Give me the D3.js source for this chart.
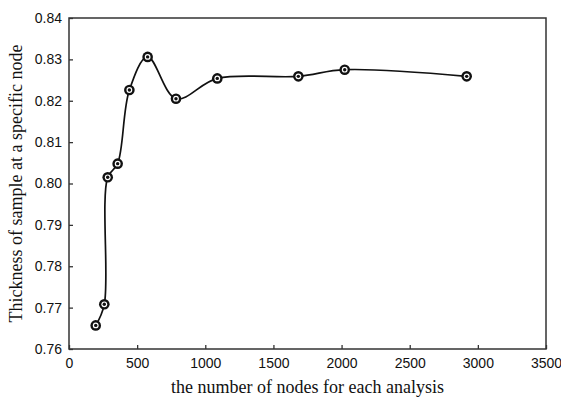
<!DOCTYPE html>
<html>
<head>
<meta charset="utf-8">
<script src="https://cdn.jsdelivr.net/npm/d3@7"></script>
<style>
  body { margin: 0; background: #fff; }
  .tick-label { font-family: "Liberation Sans", Arial, sans-serif; font-size: 14px; fill: #111; }
  .axis-title { font-family: "Liberation Serif", "Times New Roman", serif; font-size: 18px; fill: #111; }
</style>
</head>
<body>
<div id="chart"></div>
<script>
// data
const nodes = [196, 259, 284, 357, 443, 577, 785, 1088, 1683, 2023, 2918];
const thickness = [0.7657, 0.7708, 0.8015, 0.8048, 0.8226, 0.8306, 0.8205, 0.8254, 0.8259, 0.8275, 0.8259];
const xTicks = [0, 500, 1000, 1500, 2000, 2500, 3000, 3500];
const yTicks = [0.76, 0.77, 0.78, 0.79, 0.80, 0.81, 0.82, 0.83, 0.84];

const W = 561, H = 401;
const margin = { left: 69, right: 15, top: 18, bottom: 52 };

const svg = d3.select('#chart').append('svg')
  .attr('width', W)
  .attr('height', H);

const x = d3.scaleLinear().domain([0, 3500]).range([margin.left, W - margin.right]);
const y = d3.scaleLinear().domain([0.76, 0.84]).range([H - margin.bottom, margin.top]);

const axisColor = '#333';

// frame
svg.append('rect')
  .attr('x', x(0))
  .attr('y', y(0.84))
  .attr('width', x(3500) - x(0))
  .attr('height', y(0.76) - y(0.84))
  .attr('fill', 'none')
  .attr('stroke', axisColor)
  .attr('stroke-width', 1.5);

// x axis (ticks pointing inward)
const gX = svg.append('g')
  .attr('transform', `translate(0,${y(0.76)})`)
  .call(d3.axisBottom(x).tickValues(xTicks).tickSize(-4).tickPadding(10).tickFormat(d3.format('d')));
gX.select('.domain').remove();
gX.selectAll('.tick line').attr('stroke', axisColor).attr('stroke-width', 1.3);
gX.selectAll('.tick text').attr('class', 'tick-label').attr('font-family', null).attr('font-size', null).attr('dy', '0.71em').attr('y', 9);

// y axis
const gY = svg.append('g')
  .attr('transform', `translate(${x(0)},0)`)
  .call(d3.axisLeft(y).tickValues(yTicks).tickSize(-4).tickPadding(7).tickFormat(d3.format('.2f')));
gY.select('.domain').remove();
gY.selectAll('.tick line').attr('stroke', axisColor).attr('stroke-width', 1.3);
gY.selectAll('.tick text').attr('class', 'tick-label').attr('font-family', null).attr('font-size', null).attr('x', -7);

// axis titles
svg.append('text')
  .attr('class', 'axis-title')
  .attr('x', (x(0) + x(3500)) / 2)
  .attr('y', 393)
  .attr('text-anchor', 'middle')
  .text('the number of nodes for each analysis');

svg.append('text')
  .attr('class', 'axis-title')
  .attr('transform', `translate(22,${(y(0.76) + y(0.84)) / 2}) rotate(-90)`)
  .attr('text-anchor', 'middle')
  .text('Thickness of sample at a specific node');

// curve
const pts = nodes.map((n, i) => [n, thickness[i]]);
const line = d3.line()
  .x(d => x(d[0]))
  .y(d => y(d[1]))
  .curve(d3.curveCatmullRom.alpha(0.5));

svg.append('path')
  .datum(pts)
  .attr('d', line)
  .attr('fill', 'none')
  .attr('stroke', '#111')
  .attr('stroke-width', 1.7);

// markers
const gM = svg.append('g');
pts.forEach((p) => {
  const cx = x(p[0]), cy = y(p[1]);
  gM.append('circle').attr('cx', cx).attr('cy', cy).attr('r', 5.3).attr('fill', '#111');
  gM.append('circle').attr('cx', cx).attr('cy', cy).attr('r', 2.9).attr('fill', '#fff');
  gM.append('circle').attr('cx', cx).attr('cy', cy).attr('r', 1.7).attr('fill', '#111');
});
</script>
</body>
</html>
